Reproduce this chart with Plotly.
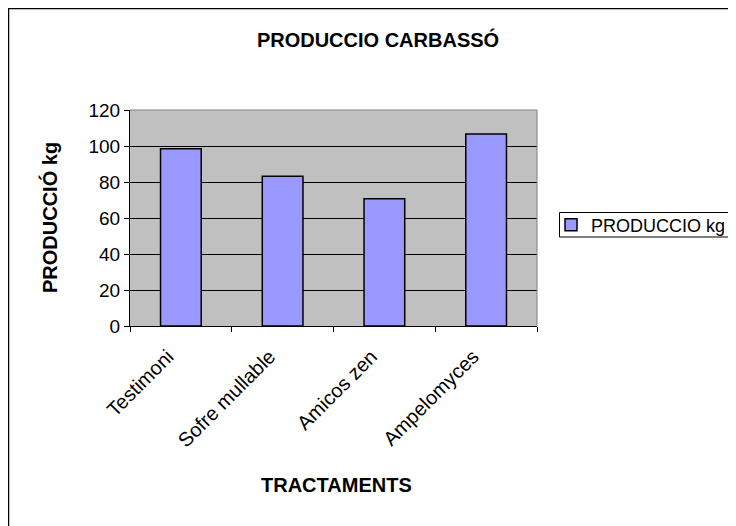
import plotly.graph_objects as go

categories = ["Testimoni", "Sofre mullable", "Amicos zen", "Ampelomyces"]
production_kg = [98.5, 83.2, 70.7, 106.7]
series_name = "PRODUCCIO kg"
y_ticks = [0, 20, 40, 60, 80, 100, 120]

W, H = 736, 526
OFF = 8  # page body margin in the browser
L, R, T, B = 130 - OFF, 207, 110 - OFF, 208
pw, ph = W - L - R, H - T - B

def px_x(p):  # reference pixel -> paper x
    return (p - OFF - L) / pw

def px_y(p):  # reference pixel -> paper y
    return (H - B - (p - OFF)) / ph

FONT = "Liberation Sans, Arial, sans-serif"

fig = go.Figure(go.Bar(
    x=categories, y=production_kg, name=series_name,
    marker=dict(color="#9999FF", line=dict(color="black", width=1.5)),
    showlegend=True,
))

fig.update_layout(
    width=W, height=H,
    margin=dict(l=L, r=R, t=T, b=B, autoexpand=False),
    paper_bgcolor="white", plot_bgcolor="#C0C0C0",
    font=dict(family=FONT, size=19, color="black"),
    bargap=0.6,
    title=dict(text="<b>PRODUCCIO CARBASSÓ</b>", font=dict(size=20, family=FONT),
               x=(378 - OFF) / W, xanchor="center", xref="container",
               y=1 - (40 - OFF) / H, yanchor="middle", yref="container"),
    legend=dict(x=px_x(551), y=px_y(225), xanchor="left", yanchor="middle",
                bgcolor="rgba(0,0,0,0)", borderwidth=0,
                font=dict(size=18, family=FONT), itemwidth=30,
                tracegroupgap=0),
    xaxis=dict(
        type="category", tickangle=-45, tickson="boundaries",
        ticks="outside", ticklen=5, tickcolor="black",
        showline=True, linecolor="black", linewidth=1, showgrid=False,
        tickfont=dict(size=20), ticklabelshift=-13, ticklabelstandoff=10,
    ),
    yaxis=dict(
        range=[0, 120], tickvals=y_ticks, ticks="outside", ticklen=5, tickcolor="black",
        showline=True, linecolor="black", linewidth=1,
        showgrid=True, gridcolor="black", gridwidth=1, zeroline=False,
        tickfont=dict(size=19),
    ),
    annotations=[
        dict(text="<b>TRACTAMENTS</b>", xref="paper", yref="paper",
             x=px_x(336), y=px_y(485), xanchor="center", yanchor="middle",
             showarrow=False, font=dict(size=20)),
        dict(text="<b>PRODUCCIÓ kg</b>", xref="paper", yref="paper",
             x=px_x(49), y=px_y(218), xanchor="center", yanchor="middle",
             textangle=-90, showarrow=False, font=dict(size=20)),
    ],
    shapes=[
        dict(type="line", xref="paper", yref="paper", x0=0, x1=1, y0=1, y1=1,
             line=dict(color="#808080", width=1), layer="above"),
        dict(type="line", xref="paper", yref="paper", x0=1, x1=1, y0=0, y1=1,
             line=dict(color="#808080", width=1), layer="above"),
        dict(type="rect", xref="paper", yref="paper",
             x0=px_x(8.5), x1=px_x(760), y0=px_y(8.5), y1=px_y(560),
             line=dict(color="black", width=1.5), fillcolor="rgba(0,0,0,0)", layer="below"),
        dict(type="rect", xref="paper", yref="paper",
             x0=px_x(559.5), x1=px_x(750), y0=px_y(212.5), y1=px_y(237),
             line=dict(color="black", width=1), fillcolor="white", layer="above"),
    ],
)

fig.write_html("out.html")
